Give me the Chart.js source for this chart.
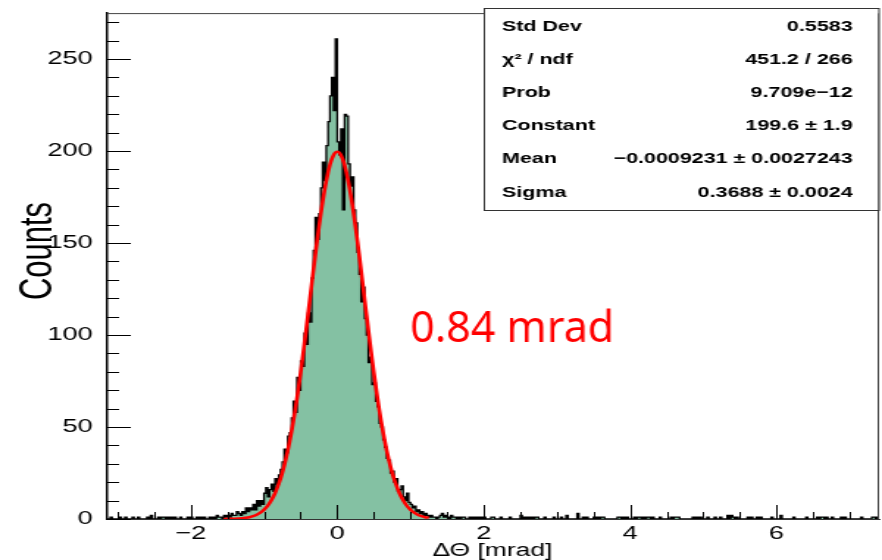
<!DOCTYPE html>
<html>
<head>
<meta charset="utf-8">
<script src="https://cdn.jsdelivr.net/npm/chart.js@4.4.1/dist/chart.umd.min.js"></script>
<style>
  html, body { margin: 0; padding: 0; background: #fff; overflow: hidden; }
</style>
</head>
<body>
<!-- drawn at 600 px wide and stretched to 882, like the original ROOT picture -->
<canvas id="plot" width="600" height="560" style="width:882px;height:560px;display:block"></canvas>
<script>
// histogram binning
const binStart = -3.15;
const binWidth = 0.025;
const nBins = 422;

// counts in the core, bins from -1.6 to 1.4
const coreStart = -1.6;
const coreCounts = [
  1, 0, 2, 1, 2, 1, 3, 2, 2, 4,
  3, 2, 4, 3, 6, 4, 6, 5, 8, 5,
  10, 7, 10, 8, 14, 17, 12, 16, 19, 15,
  22, 19, 24, 27, 31, 38, 36, 45, 47, 55,
  64, 58, 77, 70, 86, 83, 101, 95, 112, 107,
  131, 146, 164, 152, 166, 180, 194, 184, 203, 216,
  230, 240, 222, 261, 205, 198, 212, 168, 220, 219,
  193, 181, 186, 168, 161, 145, 133, 118, 126, 109,
  100, 85, 88, 73, 74, 64, 61, 52, 50, 43,
  39, 33, 32, 25, 26, 20, 22, 15, 16, 18,
  12, 10, 14, 9, 8, 6, 7, 4, 5, 3,
  4, 2, 3, 2, 1, 2, 1, 1, 0, 1
];

// sparse tails: bin position and count
const leftTailX = [-3.08, -2.97, -2.89, -2.78, -2.72, -2.6, -2.55, -2.44, -2.4, -2.36, -2.31, -2.26,
  -2.21, -2.14, -2.04, -1.98, -1.92, -1.87, -1.82, -1.74, -1.69, -1.64, -1.62];
const leftTailN = [1, 1, 1, 1, 1, 1, 2, 1, 1, 1, 1, 1, 1, 1, 1, 1, 1, 1, 1, 1, 1, 2, 1];
const rightTailX = [1.41, 1.44, 1.46, 1.49, 1.52, 1.55, 1.58, 1.62, 1.66, 1.7, 1.74, 1.8, 1.85, 1.9,
  1.96, 2.0, 2.1, 2.14, 2.24, 2.37, 2.52, 2.55, 2.62, 2.66, 2.7, 2.74, 2.83, 2.95, 3.06, 3.14,
  3.28, 3.37, 3.4, 3.51, 3.56, 3.6, 3.64, 3.83, 3.87, 3.91, 3.95, 4.06, 4.1, 4.13, 4.19, 4.23,
  4.27, 4.31, 4.42, 4.56, 4.6, 4.64, 4.67, 4.86, 4.9, 4.95, 5.06, 5.15, 5.24, 5.34, 5.38, 5.42,
  5.46, 5.61, 5.66, 5.74, 5.79, 5.93, 6.06, 6.23, 6.42, 6.56, 6.6, 6.64, 6.68, 6.75, 6.88, 6.93,
  7.16, 7.3, 7.34, 7.38];
const rightTailN = [2, 3, 1, 2, 1, 2, 1, 1, 1, 1, 1, 1, 1, 1,
  1, 1, 1, 1, 1, 1, 2, 1, 1, 1, 1, 1, 1, 1, 1, 2,
  3, 1, 1, 1, 1, 1, 1, 1, 1, 1, 1, 1, 1, 1, 1, 1,
  1, 1, 1, 1, 1, 1, 1, 1, 1, 1, 1, 1, 1, 2, 2, 1,
  1, 1, 1, 1, 1, 1, 2, 1, 1, 1, 1, 1, 1, 1, 1, 1,
  1, 1, 1, 1];

// gaussian fit curve
const fitX = [-1.55, -1.5, -1.45, -1.4, -1.35, -1.3, -1.25, -1.2, -1.15, -1.1, -1.05, -1.0,
  -0.95, -0.9, -0.85, -0.8, -0.75, -0.7, -0.65, -0.6, -0.55, -0.5, -0.45, -0.4, -0.35, -0.3,
  -0.25, -0.2, -0.15, -0.1, -0.05, 0, 0.05, 0.1, 0.15, 0.2, 0.25, 0.3, 0.35, 0.4, 0.45, 0.5,
  0.55, 0.6, 0.65, 0.7, 0.75, 0.8, 0.85, 0.9, 0.95, 1.0, 1.05, 1.1, 1.15, 1.2, 1.25];
const fitY = [0.03, 0.05, 0.09, 0.15, 0.25, 0.4, 0.64, 1.0, 1.54, 2.34, 3.47, 5.05,
  7.2, 10.2, 14.0, 19.0, 25.2, 32.9, 42.2, 53.1, 65.6, 79.6, 94.8, 110.8, 127.2, 143.4,
  158.6, 172.3, 183.7, 192.4, 197.8, 199.6, 197.8, 192.4, 183.7, 172.3, 158.6, 143.4, 127.2, 110.8, 94.8, 79.6,
  65.6, 53.1, 42.2, 32.9, 25.2, 19.0, 14.0, 10.2, 7.2, 5.05, 3.47, 2.34, 1.54, 1.0, 0.64];

// axes
const xTicks = [-2, 0, 2, 4, 6];
const xTickLabels = ['\u22122', '0', '2', '4', '6'];
const yTicks = [0, 50, 100, 150, 200, 250];
const yTickLabels = ['0', '50', '100', '150', '200', '250'];

// stats box
const statLabels = ['Std Dev', '\u03c7\u00b2 / ndf', 'Prob', 'Constant', 'Mean', 'Sigma'];
const statValues = ['0.5583', '451.2 / 266', '9.709e\u221212', '199.6 \u00b1 1.9',
  '\u22120.0009231 \u00b1 0.0027243', '0.3688 \u00b1 0.0024'];

const stretch = 882 / 600;

// fill the bin table
const counts = new Array(nBins).fill(0);
const binOf = (x) => Math.floor((x - binStart) / binWidth + 1e-6);
coreCounts.forEach((n, i) => { counts[binOf(coreStart) + i] = n; });
leftTailX.forEach((x, i) => { counts[binOf(x)] += leftTailN[i]; });
rightTailX.forEach((x, i) => { counts[binOf(x)] += rightTailN[i]; });

const histPoints = counts.map((n, i) => ({ x: binStart + i * binWidth, y: n }));
histPoints.push({ x: binStart + nBins * binWidth, y: 0 });
const fitPoints = fitX.map((x, i) => ({ x: x, y: fitY[i] }));

const font = "'Liberation Sans', Arial, sans-serif";

const decor = {
  id: 'decor',
  afterDatasetsDraw(chart) {
    const { ctx, chartArea: a, scales: { x, y } } = chart;
    ctx.save();
    ctx.strokeStyle = '#000';
    ctx.lineWidth = 1;
    ctx.beginPath();
    // x ticks, pointing up into the frame
    for (let v = -3; v <= 7; v += 0.5) {
      const px = Math.round(x.getPixelForValue(v)) + 0.5;
      const len = xTicks.includes(v) ? 14 : 7;
      ctx.moveTo(px, a.bottom);
      ctx.lineTo(px, a.bottom - len);
    }
    // y ticks, pointing right into the frame
    for (let v = 0; v <= 270; v += 10) {
      const py = Math.round(y.getPixelForValue(v)) + 0.5;
      const len = yTicks.includes(v) ? 16 : 8;
      ctx.moveTo(a.left, py);
      ctx.lineTo(a.left + len, py);
    }
    ctx.stroke();
    // frame top and right
    ctx.strokeStyle = '#444';
    ctx.beginPath();
    ctx.moveTo(a.left, a.top + 0.5);
    ctx.lineTo(a.right - 0.5, a.top + 0.5);
    ctx.lineTo(a.right - 0.5, a.bottom);
    ctx.stroke();
    ctx.restore();
  },
  afterDraw(chart) {
    const { ctx } = chart;
    ctx.save();
    // stats box
    const bx0 = 329, by0 = 8.5, bx1 = 597.5, by1 = 210.5;
    ctx.fillStyle = '#fff';
    ctx.fillRect(bx0, by0, bx1 - bx0, by1 - by0);
    ctx.strokeStyle = '#333';
    ctx.lineWidth = 1;
    ctx.strokeRect(bx0 + 0.5, by0, bx1 - bx0, by1 - by0);
    const rowY = [26.5, 59.5, 92.5, 126, 159, 192.5];
    ctx.fillStyle = '#000';
    ctx.font = 'bold 14.6px ' + font;
    ctx.textBaseline = 'middle';
    statLabels.forEach((t, i) => {
      ctx.textAlign = 'left';
      ctx.fillText(t, 341.5, rowY[i]);
      ctx.textAlign = 'right';
      ctx.fillText(statValues[i], 580, rowY[i]);
    });
    // axis titles
    ctx.font = '18px ' + font;
    ctx.textAlign = 'center';
    ctx.textBaseline = 'alphabetic';
    ctx.fillText('\u0394\u0398 [mrad]', 335, 556);
    ctx.save();
    ctx.translate(26.5, 251);
    ctx.rotate(-Math.PI / 2);
    ctx.font = '31px ' + font;
    ctx.textBaseline = 'middle';
    ctx.fillText('Counts', 0, 0);
    ctx.restore();
    // annotation, not stretched
    ctx.save();
    ctx.translate(410 / stretch, 342);
    ctx.scale(1 / stretch, 1);
    ctx.font = "43px 'Noto Sans', 'Open Sans', sans-serif";
    ctx.fillStyle = '#ff0000';
    ctx.textAlign = 'left';
    ctx.fillText('0.84 mrad', 0, 0);
    ctx.restore();
    ctx.restore();
  }
};

new Chart(document.getElementById('plot'), {
  type: 'line',
  data: {
    datasets: [
      {
        label: 'fit',
        data: fitPoints,
        borderColor: '#ff0000',
        borderWidth: 2.6,
        pointRadius: 0,
        tension: 0.4,
        fill: false
      },
      {
        label: 'hist',
        data: histPoints,
        stepped: 'before',
        borderColor: '#000',
        borderWidth: 1.3,
        backgroundColor: '#84c1a3',
        pointRadius: 0,
        fill: 'origin'
      }
    ]
  },
  options: {
    responsive: false,
    animation: false,
    devicePixelRatio: 1,
    layout: { padding: { top: 8, right: 2, left: 0, bottom: 0 } },
    plugins: { legend: { display: false }, tooltip: { enabled: false } },
    scales: {
      x: {
        type: 'linear',
        min: -3.14,
        max: 7.4,
        afterBuildTicks: (s) => { s.ticks = xTicks.map((v) => ({ value: v })); },
        afterFit: (s) => { s.height = 41; },
        grid: { display: false },
        border: { display: true, color: '#333', width: 1 },
        ticks: {
          autoSkip: false,
          maxRotation: 0,
          padding: -4,
          color: '#000',
          font: { family: font, size: 18.5 },
          callback: (v) => xTickLabels[xTicks.indexOf(v)]
        }
      },
      y: {
        min: 0,
        max: 275,
        afterBuildTicks: (s) => { s.ticks = yTicks.map((v) => ({ value: v })); },
        afterFit: (s) => { s.width = 73; },
        grid: { display: false },
        border: { display: true, color: '#000', width: 1.5 },
        ticks: {
          padding: 2,
          color: '#000',
          font: { family: font, size: 18.5 },
          callback: (v) => yTickLabels[yTicks.indexOf(v)]
        }
      }
    }
  },
  plugins: [decor]
});
</script>
</body>
</html>
